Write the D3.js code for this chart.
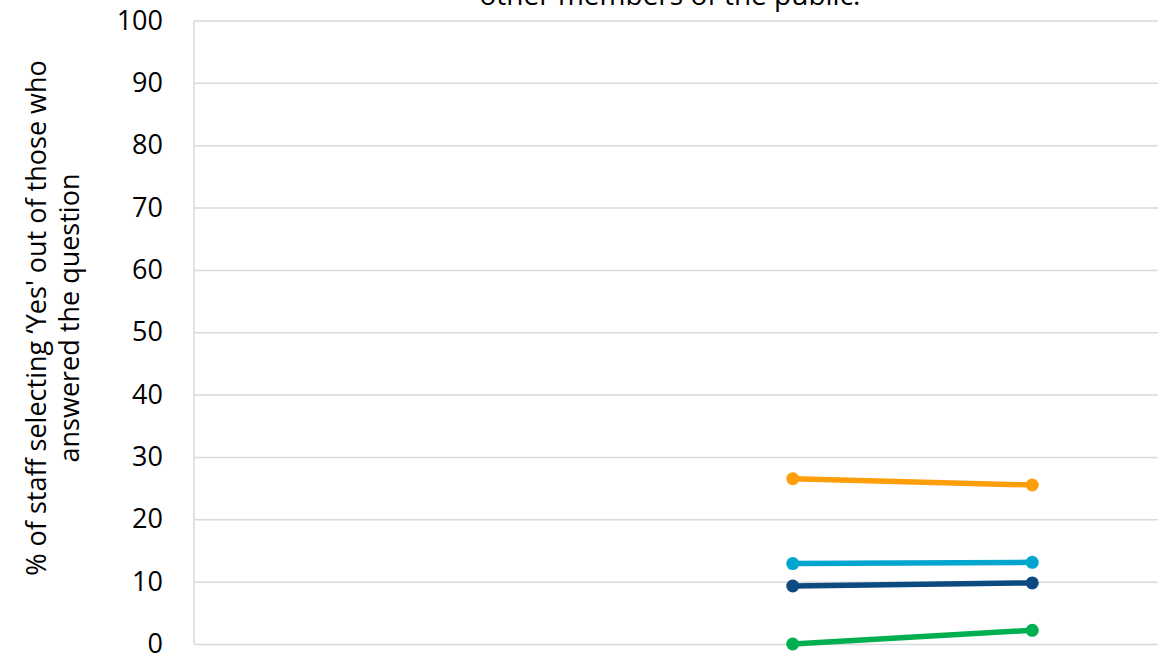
<!DOCTYPE html>
<html lang="en">
<head>
    <meta charset="UTF-8">
    <title>Staff selecting Yes</title>
    <script src="https://d3js.org/d3.v7.min.js"></script>
    <style>
        body { margin: 0; background: #fff; }
        text { font-family: "Open Sans", "Liberation Sans", sans-serif; fill: #000; }
        .grid line { stroke: #d9d9d9; stroke-width: 1.5px; }
        .grid path { display: none; }
        .yaxis path, .yaxis line { display: none; }
    </style>
</head>
<body>
    <svg width="1158" height="659"></svg>

    <script>
        // chart data
        const years = ["2019", "2020", "2021", "2022"];
        const seriesNames = ["Orange", "Light blue", "Dark blue", "Green"];
        const seriesColors = ["#ff9e0b", "#00a6ce", "#0c4a80", "#00b050"];
        const orangeVals = [null, null, 26.5, 25.5];
        const lightBlueVals = [null, null, 12.9, 13.1];
        const darkBlueVals = [null, null, 9.3, 9.8];
        const greenVals = [null, null, 0.0, 2.2];
        const yTicks = [0, 10, 20, 30, 40, 50, 60, 70, 80, 90, 100];

        const allSeries = [orangeVals, lightBlueVals, darkBlueVals, greenVals];

        const svg = d3.select("svg");
        const width = +svg.attr("width");

        const plotLeft = 194, plotTop = 20.5, plotBottom = 644;

        const x = d3.scaleBand()
            .domain(years)
            .range([plotLeft, plotLeft + 958]);

        const y = d3.scaleLinear()
            .domain([0, 100])
            .range([plotBottom, plotTop]);

        // gridlines
        svg.append("g")
            .attr("class", "grid")
            .attr("transform", `translate(${plotLeft},0)`)
            .call(d3.axisLeft(y).tickValues(yTicks).tickSize(-(width - plotLeft)).tickFormat(""));

        // left border of plot
        svg.append("line")
            .attr("x1", plotLeft).attr("x2", plotLeft)
            .attr("y1", plotTop).attr("y2", plotBottom)
            .attr("stroke", "#d9d9d9")
            .attr("stroke-width", 1.5);

        // y tick labels
        svg.append("g")
            .attr("class", "yaxis")
            .attr("transform", `translate(${plotLeft},0)`)
            .call(d3.axisLeft(y).tickValues(yTicks).tickSize(0).tickPadding(31))
            .selectAll("text")
            .style("font-size", "27px")
            .style("font-family", "'Open Sans', sans-serif");

        // y axis title
        const yTitle = svg.append("text")
            .attr("transform", "translate(46,318) rotate(-90)")
            .attr("text-anchor", "middle")
            .style("font-size", "27px");
        yTitle.append("tspan").attr("x", 0).attr("y", 0).text("% of staff selecting ‘Yes' out of those who");
        yTitle.append("tspan").attr("x", 0).attr("y", 33).text("answered the question");

        // title (only the end is visible)
        svg.append("text")
            .attr("x", 670)
            .attr("y", 5)
            .attr("text-anchor", "middle")
            .style("font-size", "28px")
            .text("other members of the public.");

        const line = d3.line()
            .defined(d => d.v !== null)
            .x(d => x(d.year) + x.bandwidth() / 2)
            .y(d => y(d.v));

        allSeries.forEach((vals, i) => {
            const pts = vals.map((v, j) => ({ year: years[j], v: v }));
            svg.append("path")
                .datum(pts)
                .attr("fill", "none")
                .attr("stroke", seriesColors[i])
                .attr("stroke-width", 5.5)
                .attr("d", line);
            svg.append("g")
                .selectAll("circle")
                .data(pts.filter(d => d.v !== null))
                .enter().append("circle")
                .attr("cx", d => x(d.year) + x.bandwidth() / 2)
                .attr("cy", d => y(d.v))
                .attr("r", 6.5)
                .attr("fill", seriesColors[i]);
        });
    </script>
</body>
</html>
